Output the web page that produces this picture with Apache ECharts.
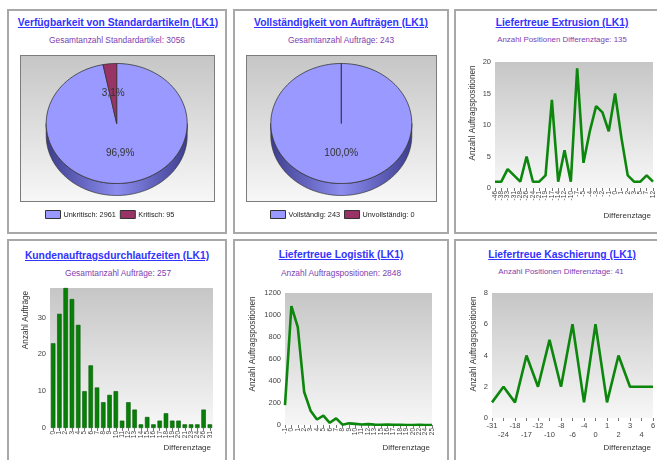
<!DOCTYPE html>
<html>
<head>
<meta charset="utf-8">
<script src="https://cdn.jsdelivr.net/npm/echarts@6/dist/echarts.min.js"></script>
<style>
  body { margin: 0; background: #fff; font-family: 'Liberation Sans', Arial, sans-serif; }
  .page { position: relative; width: 657px; height: 460px; overflow: hidden; }
  .panel { position: absolute; box-sizing: border-box; border: 2px solid #a8a8a8; }
  .chart { position: absolute; }
  .title { position: absolute; width: 220px; text-align: center; font-weight: bold; font-size: 10.3px; line-height: 12px; color: #3333ff; text-decoration: underline; white-space: nowrap; }
  .sub { position: absolute; width: 220px; text-align: center; font-size: 8.4px; line-height: 10px; color: #8040b0; white-space: nowrap; }
  .sub.small { font-size: 7.9px; }
  .piebox { position: absolute; box-sizing: border-box; border: 1px solid #7c7c7c; background: linear-gradient(#c6c6c6, #f7f7f7); }
</style>
</head>
<body>
<div class="page">
  <div class="panel" style="left:7px;top:9px;width:220px;height:225px"></div>
  <div class="panel" style="left:233px;top:9px;width:216px;height:225px"></div>
  <div class="panel" style="left:454px;top:9px;width:215px;height:225px"></div>
  <div class="panel" style="left:7px;top:239px;width:220px;height:230px"></div>
  <div class="panel" style="left:233px;top:239px;width:216px;height:230px"></div>
  <div class="panel" style="left:454px;top:239px;width:215px;height:230px"></div>

  <div class="piebox" style="left:20px;top:55px;width:195px;height:147px"></div>
  <div class="piebox" style="left:246px;top:55px;width:191px;height:147px"></div>

  <div class="title" style="left:8px;top:17px">Verfügbarkeit von Standardartikeln (LK1)</div>
  <div class="sub" style="left:7px;top:35.4px">Gesamtanzahl Standardartikel: 3056</div>
  <div class="title" style="left:231px;top:17px">Vollständigkeit von Aufträgen (LK1)</div>
  <div class="sub" style="left:231px;top:35.4px">Gesamtanzahl Aufträge: 243</div>
  <div class="title" style="left:452px;top:17px">Liefertreue Extrusion (LK1)</div>
  <div class="sub small" style="left:452px;top:34.5px">Anzahl Positionen Differenztage: 135</div>
  <div class="title" style="left:7px;top:249.7px">Kundenauftragsdurchlaufzeiten (LK1)</div>
  <div class="sub" style="left:8px;top:267.8px">Gesamtanzahl Aufträge: 257</div>
  <div class="title" style="left:231px;top:248.7px">Liefertreue Logistik (LK1)</div>
  <div class="sub" style="left:231px;top:267.8px">Anzahl Auftragspositionen: 2848</div>
  <div class="title" style="left:452px;top:249px">Liefertreue Kaschierung (LK1)</div>
  <div class="sub small" style="left:451px;top:267.3px">Anzahl Positionen Differenztage: 41</div>

  <div id="c1" class="chart" style="left:7px;top:9px;width:220px;height:225px"></div>
  <div id="c2" class="chart" style="left:233px;top:9px;width:216px;height:225px"></div>
  <div id="c3" class="chart" style="left:454px;top:9px;width:215px;height:225px"></div>
  <div id="c4" class="chart" style="left:7px;top:239px;width:220px;height:230px"></div>
  <div id="c5" class="chart" style="left:233px;top:239px;width:216px;height:230px"></div>
  <div id="c6" class="chart" style="left:454px;top:239px;width:215px;height:230px"></div>
</div>

<script>
// Verfügbarkeit von Standardartikeln
const availNames = ['Unkritisch', 'Kritisch']
const availValues = [2961, 95]
// Vollständigkeit von Aufträgen
const complNames = ['Vollständig', 'Unvollständig']
const complValues = [243, 0]

// Liefertreue Extrusion
const extrusionDays = ['-46', '-38', '-33', '-31', '-28', '-26', '-24', '-21', '-19', '-17', '-14', '-12', '-10',
  '-7', '-5', '-4', '-3', '-2', '-1', '0', '1', '2', '3', '5', '7', '12']
const extrusionCounts = [1, 1, 3, 2, 1, 5, 1, 1, 2, 14, 1, 6, 1, 19, 4, 9, 13, 12, 9, 15, 8, 2, 1, 1, 2, 1]

// Kundenauftragsdurchlaufzeiten
const leadDays = ['0', '1', '2', '3', '4', '5', '6', '7', '8', '9', '10', '11', '12', '13', '14', '15', '16',
  '17', '18', '19', '20', '21', '23', '24', '26', '31']
const leadCounts = [23, 31, 38, 35, 28, 10, 17, 11, 7, 9, 10, 2, 7, 5, 1, 3, 1, 2, 4, 2, 2, 1, 1, 1, 5, 1]

// Liefertreue Logistik
const logistikDays = ['-1', '0', '1', '2', '3', '4', '5', '6', '7', '8', '9', '10', '11', '12', '13', '15',
  '16', '17', '18', '19', '20', '22', '24', '25']
const logistikCounts = [180, 1080, 890, 300, 130, 50, 85, 20, 60, 3, 15, 10, 5, 8, 3, 2, 4, 1, 1, 0, 0, 1, 0, 0]

// Liefertreue Kaschierung
const kaschDays = ['-31', '-24', '-18', '-17', '-12', '-10', '-8', '-6', '-4', '0', '1', '2', '3', '4', '6']
const kaschCounts = [1, 2, 1, 4, 2, 5, 2, 6, 1, 6, 1, 4, 2, 2, 2]

const FONT = "'Liberation Sans', Arial, sans-serif"
const GREEN = '#0c860c'

function plotBg() {
  return new echarts.graphic.LinearGradient(0, 0, 0, 1, [
    { offset: 0, color: '#c6c6c6' }, { offset: 1, color: '#f7f7f7' }
  ])
}

function ellipsePts(g, a0, a1, dy) {
  const n = Math.max(2, Math.ceil((a1 - a0) / 0.03))
  const pts = []
  for (let k = 0; k <= n; k++) {
    const a = a0 + (a1 - a0) * k / n
    pts.push([g.cx + g.rx * Math.cos(a), g.cy + dy + g.ry * Math.sin(a)])
  }
  return pts
}

// 3D pie drawn as custom series, one series per slice so the legend lists them
function pie3d(el, names, values, colors, sides, g, legendLeft) {
  const chart = echarts.init(el)
  const total = values.reduce((s, v) => s + v, 0)
  const starts = []
  let acc = 0
  values.forEach(v => { starts.push(acc / total); acc += v })

  const series = names.map((name, i) => ({
    name: name + ': ' + values[i],
    type: 'custom',
    coordinateSystem: 'none',
    itemStyle: { color: colors[i], borderColor: '#333', borderWidth: 1 },
    data: [values[i]],
    renderItem() {
      const a0 = -Math.PI / 2 + 2 * Math.PI * starts[i]
      const a1 = a0 + 2 * Math.PI * values[i] / total
      const children = []
      const s0 = Math.max(a0, 0), s1 = Math.min(a1, Math.PI)
      if (s1 > s0) {
        const top = ellipsePts(g, s0, s1, 0)
        const bot = ellipsePts(g, s0, s1, g.depth).reverse()
        children.push({
          type: 'polygon', z2: 1, shape: { points: top.concat(bot) },
          style: {
            fill: new echarts.graphic.LinearGradient(0, 0, 1, 0, [
              { offset: 0, color: sides[i][0] }, { offset: 0.5, color: sides[i][1] }, { offset: 1, color: sides[i][0] }
            ]),
            stroke: '#333', lineWidth: 0.7
          }
        })
      }
      if (a1 > a0) {
        children.push({
          type: 'polygon', z2: 10,
          shape: { points: [[g.cx, g.cy]].concat(ellipsePts(g, a0, a1, 0)) },
          style: { fill: colors[i], stroke: '#333', lineWidth: 0.8 }
        })
        const am = (a0 + a1) / 2
        children.push({
          type: 'text', z2: 20,
          x: g.cx + g.rx * 0.5 * Math.cos(am), y: g.cy + g.ry * 0.5 * Math.sin(am),
          style: {
            text: (values[i] / total * 100).toFixed(1).replace('.', ',') + '%',
            fill: '#333', fontSize: 10, fontFamily: FONT, align: 'center', verticalAlign: 'middle'
          }
        })
      }
      return { type: 'group', children }
    }
  }))

  chart.setOption({
    animation: false,
    textStyle: { fontFamily: FONT },
    legend: {
      left: legendLeft, top: 201, padding: 0, icon: 'rect', itemWidth: 15, itemHeight: 8, itemGap: 4,
      itemStyle: { borderColor: '#333', borderWidth: 1 },
      textStyle: { fontSize: 7.3, color: '#222', padding: [0, 0, 0, -2] }
    },
    series
  })
}

function cartesian(el, cfg) {
  const chart = echarts.init(el)
  const yLabel = { fontSize: 7.5, color: '#444', margin: 4, formatter: v => String(v) }
  if (cfg.hideMax) yLabel.showMaxLabel = false
  chart.setOption({
    animation: false,
    textStyle: { fontFamily: FONT },
    grid: Object.assign({ show: true, backgroundColor: plotBg(), borderWidth: 0, outerBoundsMode: 'none' }, cfg.grid),
    xAxis: {
      type: 'category', data: cfg.cats, boundaryGap: !!cfg.bar,
      axisLine: { show: false },
      axisTick: { show: true, length: 3, interval: 0, alignWithLabel: true, lineStyle: { color: '#777' } },
      axisLabel: Object.assign({ interval: 0, color: '#444', margin: 3 }, cfg.xLabel),
      name: 'Differenztage', nameLocation: 'end', nameGap: -2, nameMoveOverlap: false,
      nameTextStyle: { fontSize: 8, color: '#333', align: 'right', verticalAlign: 'top', padding: [cfg.xNamePad, 0, 0, 0] }
    },
    yAxis: {
      type: 'value', min: 0, max: cfg.max, interval: cfg.interval,
      axisLine: { show: false }, axisTick: { show: false }, splitLine: { show: false },
      axisLabel: yLabel,
      name: cfg.yName, nameLocation: 'middle', nameRotate: 90, nameGap: cfg.yGap, nameMoveOverlap: false,
      nameTextStyle: { fontSize: 8.2, color: '#333', padding: [0, 0, 0, cfg.yShift * 2] }
    },
    series: [cfg.bar
      ? { type: 'bar', data: cfg.values, barWidth: 4.5, itemStyle: { color: '#088008', borderColor: '#045a04', borderWidth: 0.6 } }
      : { type: 'line', data: cfg.values, symbol: 'none', lineStyle: { width: 2.6, color: GREEN }, itemStyle: { color: GREEN } }]
  })
}

const pieGeo = { cx: 109.7, cy: 114.5, rx: 70.5, ry: 60, depth: 12 }
pie3d(document.getElementById('c1'), availNames, availValues, ['#9999ff', '#993366'],
  [['#3d3d8f', '#8c8cf0'], ['#4d1a33', '#7a2952']], pieGeo, 38)
pie3d(document.getElementById('c2'), complNames, complValues, ['#9999ff', '#993366'],
  [['#3d3d8f', '#8c8cf0'], ['#4d1a33', '#7a2952']], Object.assign({}, pieGeo, { cx: 108.3 }), 37)

cartesian(document.getElementById('c3'), {
  grid: { left: 41, top: 53, width: 158, height: 126 },
  cats: extrusionDays, values: extrusionCounts, max: 20, interval: 5,
  xLabel: { rotate: 90, fontSize: 6.5 }, xNamePad: 24,
  yName: 'Anzahl Auftragspositionen', yGap: 18, yShift: 12
})
cartesian(document.getElementById('c4'), {
  grid: { left: 43, top: 49, width: 163, height: 140 },
  cats: leadDays, values: leadCounts, bar: true, max: 38, interval: 10, hideMax: true,
  xLabel: { rotate: 90, fontSize: 6.5 }, xNamePad: 16,
  yName: 'Anzahl Aufträge', yGap: 20, yShift: 38
})
cartesian(document.getElementById('c5'), {
  grid: { left: 52, top: 54, width: 147, height: 132 },
  cats: logistikDays, values: logistikCounts, max: 1200, interval: 200,
  xLabel: { rotate: 90, fontSize: 6.5 }, xNamePad: 19,
  yName: 'Anzahl Auftragspositionen', yGap: 28, yShift: 15
})
cartesian(document.getElementById('c6'), {
  grid: { left: 38, top: 54, width: 161, height: 125 },
  cats: kaschDays, values: kaschCounts, max: 8, interval: 2,
  xLabel: { fontSize: 7.5, lineHeight: 9, formatter: (v, i) => (i % 2 ? '\n' + v : v) }, xNamePad: 26,
  yName: 'Anzahl Auftragspositionen', yGap: 14, yShift: 11.5
})
</script>
</body>
</html>
